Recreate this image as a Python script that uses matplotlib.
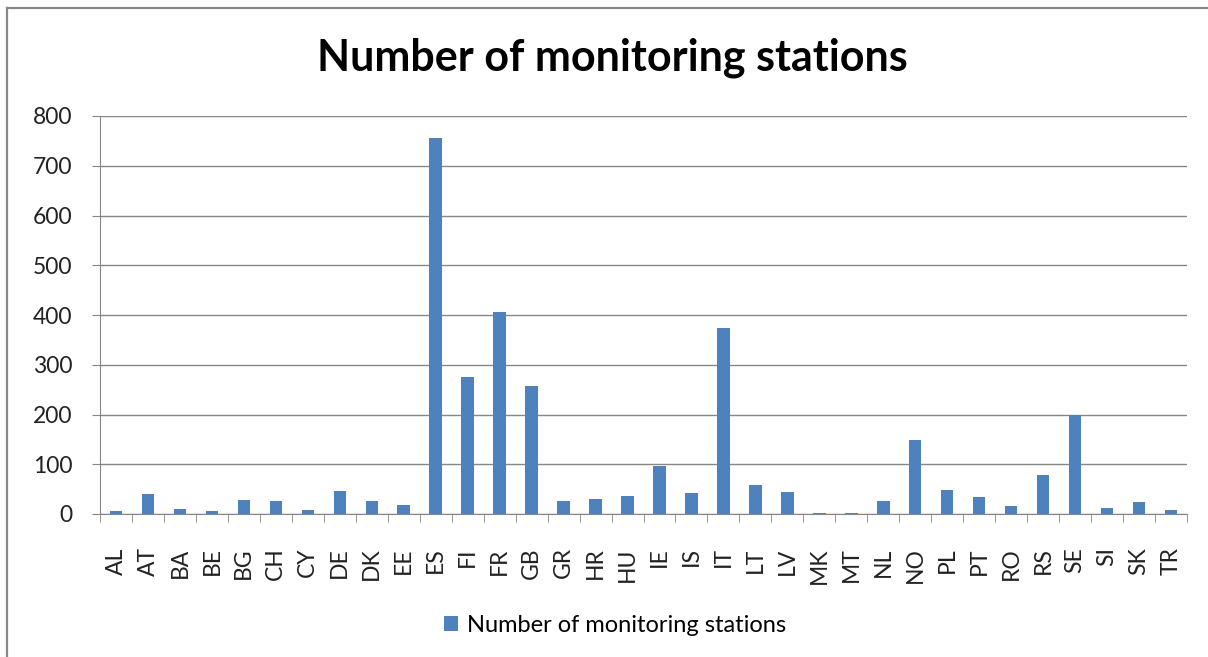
import numpy as np
import matplotlib.pyplot as plt
from matplotlib.lines import Line2D

paises = ['AL', 'AT', 'BA', 'BE', 'BG', 'CH', 'CY', 'DE', 'DK', 'EE', 'ES', 'FI',
          'FR', 'GB', 'GR', 'HR', 'HU', 'IE', 'IS', 'IT', 'LT', 'LV', 'MK', 'MT',
          'NL', 'NO', 'PL', 'PT', 'RO', 'RS', 'SE', 'SI', 'SK', 'TR']
estacoes = [6, 40, 11, 6, 29, 26, 8, 47, 26, 19, 755, 275,
            406, 257, 26, 30, 37, 97, 42, 373, 58, 44, 3, 3,
            26, 149, 48, 34, 16, 79, 200, 13, 24, 9]
y_ticks = [0, 100, 200, 300, 400, 500, 600, 700, 800]

plt.rcParams['font.family'] = ['Lato', 'DejaVu Sans']

azul = '#4F81BD'
cinza = '#868686'

fig = plt.figure(figsize=(12.08, 6.57), dpi=100)
ax = fig.add_axes([100 / 1208, 1 - 514 / 657, 1087 / 1208, 398 / 657])

x = np.arange(len(paises))
ax.bar(x, estacoes, width=0.39, color=azul, zorder=3,
       label='Number of monitoring stations')

ax.set_xlim(-0.5, len(paises) - 0.5)
ax.set_ylim(0, 800)
ax.set_yticks(y_ticks)
ax.set_yticklabels([str(v) for v in y_ticks], fontsize=16.5, color='#222222')
ax.set_xticks(x)
ax.set_xticklabels(paises, rotation=90, fontsize=16.5, color='#222222')
ax.tick_params(axis='x', which='major', length=0, pad=24)
ax.set_xticks(np.arange(-0.5, len(paises)), minor=True)
ax.tick_params(axis='x', which='minor', length=6, color=cinza, direction='out')
ax.tick_params(axis='y', length=6, color=cinza, pad=14)

ax.yaxis.grid(True, color=cinza, linewidth=1.0, zorder=0)
for s in ['top', 'right']:
    ax.spines[s].set_visible(False)
for s in ['left', 'bottom']:
    ax.spines[s].set_color(cinza)

fig.text(612 / 1208, 1 - 58 / 657, 'Number of monitoring stations',
         ha='center', va='center', fontsize=31, fontweight='bold')

fig.legend(loc='center', bbox_to_anchor=(615 / 1208, 1 - 625 / 657),
           frameon=False, fontsize=17, handlelength=0.6, handleheight=0.6,
           handletextpad=0.4)

# borda do gráfico
fig.add_artist(Line2D([7 / 1208, 7 / 1208], [0, 1 - 8 / 657],
                      transform=fig.transFigure, color='#888888', lw=1.6))
fig.add_artist(Line2D([7 / 1208, 1], [1 - 8 / 657, 1 - 8 / 657],
                      transform=fig.transFigure, color='#888888', lw=1.6))

fig.savefig('out.png', dpi=100)
